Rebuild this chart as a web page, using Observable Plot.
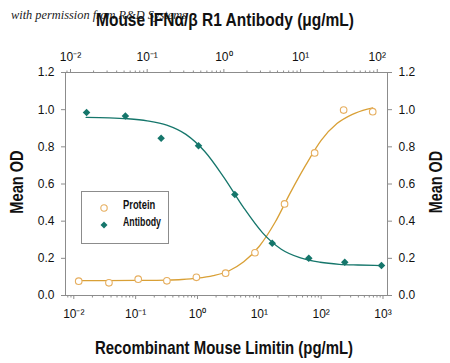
<!DOCTYPE html>
<html><head><meta charset="utf-8">
<script src="https://cdn.jsdelivr.net/npm/d3@7"></script>
<script src="https://cdn.jsdelivr.net/npm/@observablehq/plot@0.6"></script>
<style>
body{margin:0;background:#fff;}
#wrap{position:relative;width:450px;height:363px;overflow:hidden;font-family:"Liberation Sans",Arial,sans-serif;color:#111;}
#wrap svg{position:absolute;left:0;top:0;}
.lbl{position:absolute;font-weight:bold;font-size:19px;white-space:nowrap;line-height:1;}
.wm{position:absolute;left:11px;top:9px;font-family:"Liberation Serif","DejaVu Serif",serif;font-style:italic;font-size:12px;color:#222;white-space:nowrap;line-height:1;transform-origin:0 0;}
.legend{position:absolute;left:81px;top:191px;width:88px;height:53px;border:1px solid #8c8c8c;box-sizing:border-box;}
.li{position:absolute;left:41px;font-weight:bold;font-size:12px;white-space:nowrap;transform-origin:0 50%;line-height:1;}
.mk{position:absolute;}
</style></head>
<body><div id="wrap"></div>
<script>
// Protein (bottom axis, pg/mL)
const proteinConc = [0.012, 0.037, 0.11, 0.32, 0.96, 2.85, 8.5, 25.6, 78.5, 231, 682];
const proteinOD   = [0.077, 0.068, 0.088, 0.079, 0.098, 0.12, 0.23, 0.493, 0.767, 0.998, 0.989];
// Antibody (top axis, ug/mL)
const antibodyConc = [0.0162, 0.052, 0.152, 0.467, 1.39, 4.27, 12.8, 37.7, 113.5];
const antibodyOD   = [0.985, 0.966, 0.846, 0.806, 0.543, 0.281, 0.20, 0.179, 0.161];
// Fitted curves
const proteinFitConc = [0.012, 0.032, 0.1, 0.32, 0.56, 1, 1.8, 3.2, 5.6, 10, 18, 32, 56, 100, 180, 320, 560, 680];
const proteinFitOD   = [0.080, 0.080, 0.081, 0.083, 0.086, 0.093, 0.107, 0.132, 0.181, 0.265, 0.394, 0.555, 0.70, 0.835, 0.925, 0.975, 1.003, 1.01];
const antibodyFitConc = [0.016, 0.032, 0.056, 0.1, 0.18, 0.32, 0.56, 1, 1.8, 3.2, 5.6, 10, 18, 32, 56, 110];
const antibodyFitOD   = [0.958, 0.956, 0.951, 0.940, 0.917, 0.867, 0.776, 0.636, 0.474, 0.337, 0.249, 0.202, 0.179, 0.168, 0.164, 0.161];
// Ticks
const bottomTicks = [0.01, 0.1, 1, 10, 100, 1000];
const bottomTickLabels = ["10⁻²", "10⁻¹", "10⁰", "10¹", "10²", "10³"];
const topTicks = [0.01, 0.1, 1, 10, 100];
const topTickLabels = ["10⁻²", "10⁻¹", "10⁰", "10¹", "10²"];
const yTicks = [0, 0.2, 0.4, 0.6, 0.8, 1.0, 1.2];
const yTickLabels = ["0.0", "0.2", "0.4", "0.6", "0.8", "1.0", "1.2"];
const bottomDomain = [0.00734, 1183];
const topDomain = [0.00861, 136];

const FONT = '"Liberation Sans", Arial, sans-serif';
const AXIS = "#8c8c8c";
const ORANGE_LINE = "#D9A036", ORANGE_PT = "#E6AE5E", TEAL = "#15766B";

function minorTicks(domain) {
  const out = [];
  for (let e = -4; e <= 4; e++) for (let k = 2; k <= 9; k++) {
    const v = k * Math.pow(10, e);
    if (v >= domain[0] && v <= domain[1]) out.push(v);
  }
  return out;
}

const common = {
  width: 450, height: 363, marginTop: 72, marginLeft: 65, marginRight: 63, marginBottom: 68,
  style: {background: "transparent", fontFamily: FONT, fontSize: "12px", color: "#111"}
};

const proteinData = proteinConc.map((x, i) => ({x, y: proteinOD[i]}));
const proteinFit = proteinFitConc.map((x, i) => ({x, y: proteinFitOD[i]}));
const antibodyData = antibodyConc.map((x, i) => ({x, y: antibodyOD[i]}));
const antibodyFit = antibodyFitConc.map((x, i) => ({x, y: antibodyFitOD[i]}));

const plotA = Plot.plot({
  ...common,
  x: {type: "log", domain: bottomDomain},
  y: {domain: [0, 1.2]},
  marks: [
    Plot.frame({stroke: AXIS}),
    Plot.axisY({anchor: "left", ticks: yTicks, tickFormat: d => yTickLabels[yTicks.indexOf(d)], tickSize: 4, tickPadding: 7, stroke: AXIS, label: null}),
    Plot.axisY({anchor: "right", ticks: yTicks, tickFormat: d => yTickLabels[yTicks.indexOf(d)], tickSize: 4, tickPadding: 7, stroke: AXIS, label: null}),
    Plot.axisX({anchor: "bottom", ticks: minorTicks(bottomDomain), tickFormat: () => "", tickSize: 2.5, stroke: AXIS, label: null}),
    Plot.axisX({anchor: "bottom", ticks: bottomTicks, tickFormat: d => bottomTickLabels[bottomTicks.indexOf(d)], tickSize: 4, tickPadding: 10, stroke: AXIS, label: null}),
    Plot.line(proteinFit, {x: "x", y: "y", stroke: ORANGE_LINE, strokeWidth: 1.3, curve: "monotone-x"}),
    Plot.dot(proteinData, {x: "x", y: "y", r: 3.3, stroke: ORANGE_PT, fill: "white", strokeWidth: 1.1})
  ]
});

const plotB = Plot.plot({
  ...common,
  x: {type: "log", domain: topDomain},
  y: {domain: [0, 1.2], axis: null},
  marks: [
    Plot.axisX({anchor: "top", ticks: minorTicks(topDomain), tickFormat: () => "", tickSize: 2.5, stroke: AXIS, label: null}),
    Plot.axisX({anchor: "top", ticks: topTicks, tickFormat: d => topTickLabels[topTicks.indexOf(d)], tickSize: 4, tickPadding: 8, stroke: AXIS, label: null}),
    Plot.line(antibodyFit, {x: "x", y: "y", stroke: TEAL, strokeWidth: 1.3, curve: "monotone-x"}),
    Plot.dot(antibodyData, {x: "x", y: "y", r: 3.4, symbol: "diamond2", fill: TEAL, stroke: "none"})
  ]
});

const wrap = document.getElementById("wrap");
wrap.appendChild(plotA);
wrap.appendChild(plotB);

function addDiv(cls, text, css, parent) {
  const d = document.createElement("div");
  d.className = cls;
  if (text != null) d.textContent = text;
  Object.assign(d.style, css || {});
  (parent || wrap).appendChild(d);
  return d;
}
// centered label scaled horizontally to a target width
function label(text, cx, cy, targetW, rotate) {
  const d = addDiv("lbl", text, {left: cx + "px", top: cy + "px"});
  const k = targetW / d.offsetWidth;
  d.style.transform = "translate(-50%,-50%)" + (rotate ? " rotate(-90deg)" : "") + " scaleX(" + k + ")";
  return d;
}
const wm = addDiv("wm", "with permission from R&D Systems");
wm.style.transform = "scaleX(" + (176 / wm.offsetWidth) + ")";
label("Mouse IFNα/β R1 Antibody (μg/mL)", 225, 19, 258, false);
label("Recombinant Mouse Limitin (pg/mL)", 224, 347, 258, false);
label("Mean OD", 16, 182, 63, true);
label("Mean OD", 435, 182, 62, true);

const lg = addDiv("legend", null);
const s1 = addDiv("mk", null, {left: "99px", top: "199px", width: "10px", height: "10px"});
s1.innerHTML = '<svg width="10" height="10" style="position:static"><circle cx="5" cy="5" r="3.2" fill="white" stroke="' + ORANGE_PT + '" stroke-width="1.1"/></svg>';
const s2 = addDiv("mk", null, {left: "99px", top: "216px", width: "10px", height: "10px"});
s2.innerHTML = '<svg width="10" height="10" style="position:static"><path d="M5,1.5L8.5,5L5,8.5L1.5,5Z" fill="' + TEAL + '"/></svg>';
[{name: "Protein", top: 7, w: 32}, {name: "Antibody", top: 24, w: 38}].forEach(it => {
  const t = addDiv("li", it.name, {top: it.top + "px"}, lg);
  t.style.transform = "scaleX(" + (it.w / t.offsetWidth) + ")";
});
</script>
</body></html>
